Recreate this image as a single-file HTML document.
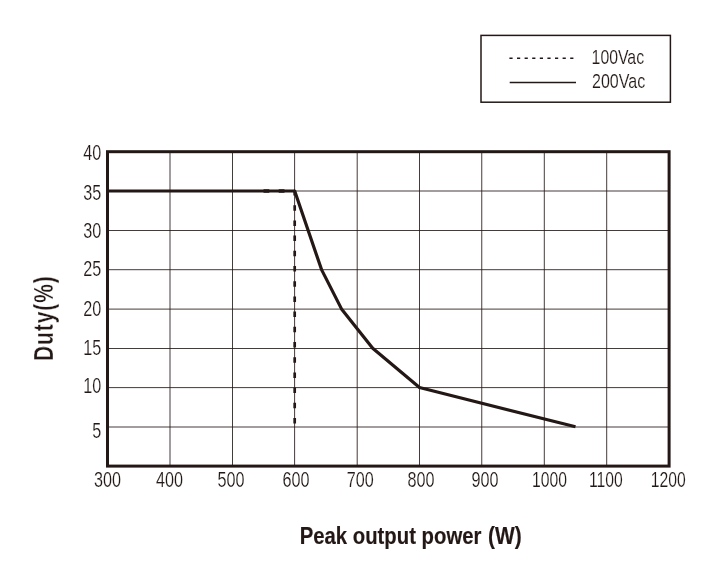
<!DOCTYPE html>
<html><head><meta charset="utf-8"><title>Peak output power vs Duty</title>
<style>
html,body{margin:0;padding:0;background:#fff;}
body{width:710px;height:570px;overflow:hidden;font-family:"Liberation Sans",sans-serif;}
svg{display:block;will-change:transform;}
text{font-family:"Liberation Sans",sans-serif;fill:#231815;}
.th{stroke:#fff;stroke-width:0.15px;vector-effect:non-scaling-stroke;}
.tb{stroke:#231815;stroke-width:0.15px;vector-effect:non-scaling-stroke;}
.td{stroke:#fff;stroke-width:0.3px;vector-effect:non-scaling-stroke;}
</style></head><body>
<svg width="710" height="570" viewBox="0 0 710 570">
<rect width="710" height="570" fill="#fff"/>
<g stroke="#231815" stroke-width="0.85" fill="none">
<line x1="170.00" y1="151.70" x2="170.00" y2="466.10"/>
<line x1="232.50" y1="151.70" x2="232.50" y2="466.10"/>
<line x1="294.60" y1="151.70" x2="294.60" y2="466.10"/>
<line x1="357.20" y1="151.70" x2="357.20" y2="466.10"/>
<line x1="419.50" y1="151.70" x2="419.50" y2="466.10"/>
<line x1="481.75" y1="151.70" x2="481.75" y2="466.10"/>
<line x1="544.30" y1="151.70" x2="544.30" y2="466.10"/>
<line x1="606.70" y1="151.70" x2="606.70" y2="466.10"/>
<line x1="107.50" y1="191.00" x2="669.10" y2="191.00"/>
<line x1="107.50" y1="230.50" x2="669.10" y2="230.50"/>
<line x1="107.50" y1="269.70" x2="669.10" y2="269.70"/>
<line x1="107.50" y1="309.10" x2="669.10" y2="309.10"/>
<line x1="107.50" y1="348.50" x2="669.10" y2="348.50"/>
<line x1="107.50" y1="387.60" x2="669.10" y2="387.60"/>
<line x1="107.50" y1="427.00" x2="669.10" y2="427.00"/>
</g>
<rect x="107.50" y="151.70" width="561.60" height="314.40" fill="none" stroke="#231815" stroke-width="3"/>
<line x1="294.70" y1="190" x2="294.70" y2="424" stroke="#231815" stroke-width="2.7" stroke-dasharray="5.5 9.7"/>
<line x1="263.5" y1="191.10" x2="294.70" y2="191.10" stroke="#231815" stroke-width="3.5" stroke-dasharray="5.8 9.4"/>
<polyline points="107.50,191.00 294.70,191.00 321.53,269.60 341.50,308.90 372.70,348.20 419.50,387.50 575.50,426.80" fill="none" stroke="#231815" stroke-width="3.2" stroke-linejoin="round" stroke-linecap="butt"/>
<text transform="translate(101.3 159.70) scale(0.72 1)" font-size="22.5" text-anchor="end" class="th">40</text>
<text transform="translate(101.3 199.60) scale(0.72 1)" font-size="22.5" text-anchor="end" class="th">35</text>
<text transform="translate(101.3 237.70) scale(0.72 1)" font-size="22.5" text-anchor="end" class="th">30</text>
<text transform="translate(101.3 276.00) scale(0.72 1)" font-size="22.5" text-anchor="end" class="th">25</text>
<text transform="translate(101.3 316.20) scale(0.72 1)" font-size="22.5" text-anchor="end" class="th">20</text>
<text transform="translate(101.3 354.50) scale(0.72 1)" font-size="22.5" text-anchor="end" class="th">15</text>
<text transform="translate(101.3 393.00) scale(0.72 1)" font-size="22.5" text-anchor="end" class="th">10</text>
<text transform="translate(101.3 437.60) scale(0.72 1)" font-size="22.5" text-anchor="end" class="th">5</text>
<text transform="translate(107.40 487.2) scale(0.720 1)" font-size="22.5" text-anchor="middle" class="th">300</text>
<text transform="translate(169.40 487.2) scale(0.720 1)" font-size="22.5" text-anchor="middle" class="th">400</text>
<text transform="translate(231.00 487.2) scale(0.720 1)" font-size="22.5" text-anchor="middle" class="th">500</text>
<text transform="translate(296.10 487.2) scale(0.720 1)" font-size="22.5" text-anchor="middle" class="th">600</text>
<text transform="translate(360.20 487.2) scale(0.720 1)" font-size="22.5" text-anchor="middle" class="th">700</text>
<text transform="translate(420.90 487.2) scale(0.720 1)" font-size="22.5" text-anchor="middle" class="th">800</text>
<text transform="translate(484.90 487.2) scale(0.720 1)" font-size="22.5" text-anchor="middle" class="th">900</text>
<text transform="translate(549.40 487.2) scale(0.700 1)" font-size="22.5" text-anchor="middle" class="th">1000</text>
<text transform="translate(605.80 487.2) scale(0.700 1)" font-size="22.5" text-anchor="middle" class="th">1100</text>
<text transform="translate(668.30 487.2) scale(0.700 1)" font-size="22.5" text-anchor="middle" class="th">1200</text>
<text transform="translate(299.7 543.7) scale(0.876 1)" font-size="23.2" font-weight="bold" class="tb">Peak output power</text>
<text transform="translate(488.0 543.7) scale(0.90 1)" font-size="23.2" font-weight="bold" class="tb">(W)</text>
<text transform="translate(52.55 360.95) rotate(-90) scale(0.775 1)" font-size="27" letter-spacing="1.2" class="td" font-weight="bold">Duty(%)</text>
<rect x="481" y="35.4" width="189.4" height="66.8" fill="none" stroke="#231815" stroke-width="1.5"/>
<line x1="509.4" y1="58.3" x2="574" y2="58.3" stroke="#231815" stroke-width="1.5" stroke-dasharray="3.2 4.4"/>
<line x1="509.7" y1="82.5" x2="576" y2="82.5" stroke="#231815" stroke-width="1.5"/>
<text transform="translate(591.6 64.2) scale(0.787 1)" font-size="20.1" class="th">100Vac</text>
<text transform="translate(592.0 88.3) scale(0.798 1)" font-size="20.1" class="th">200Vac</text>
</svg>
</body></html>
